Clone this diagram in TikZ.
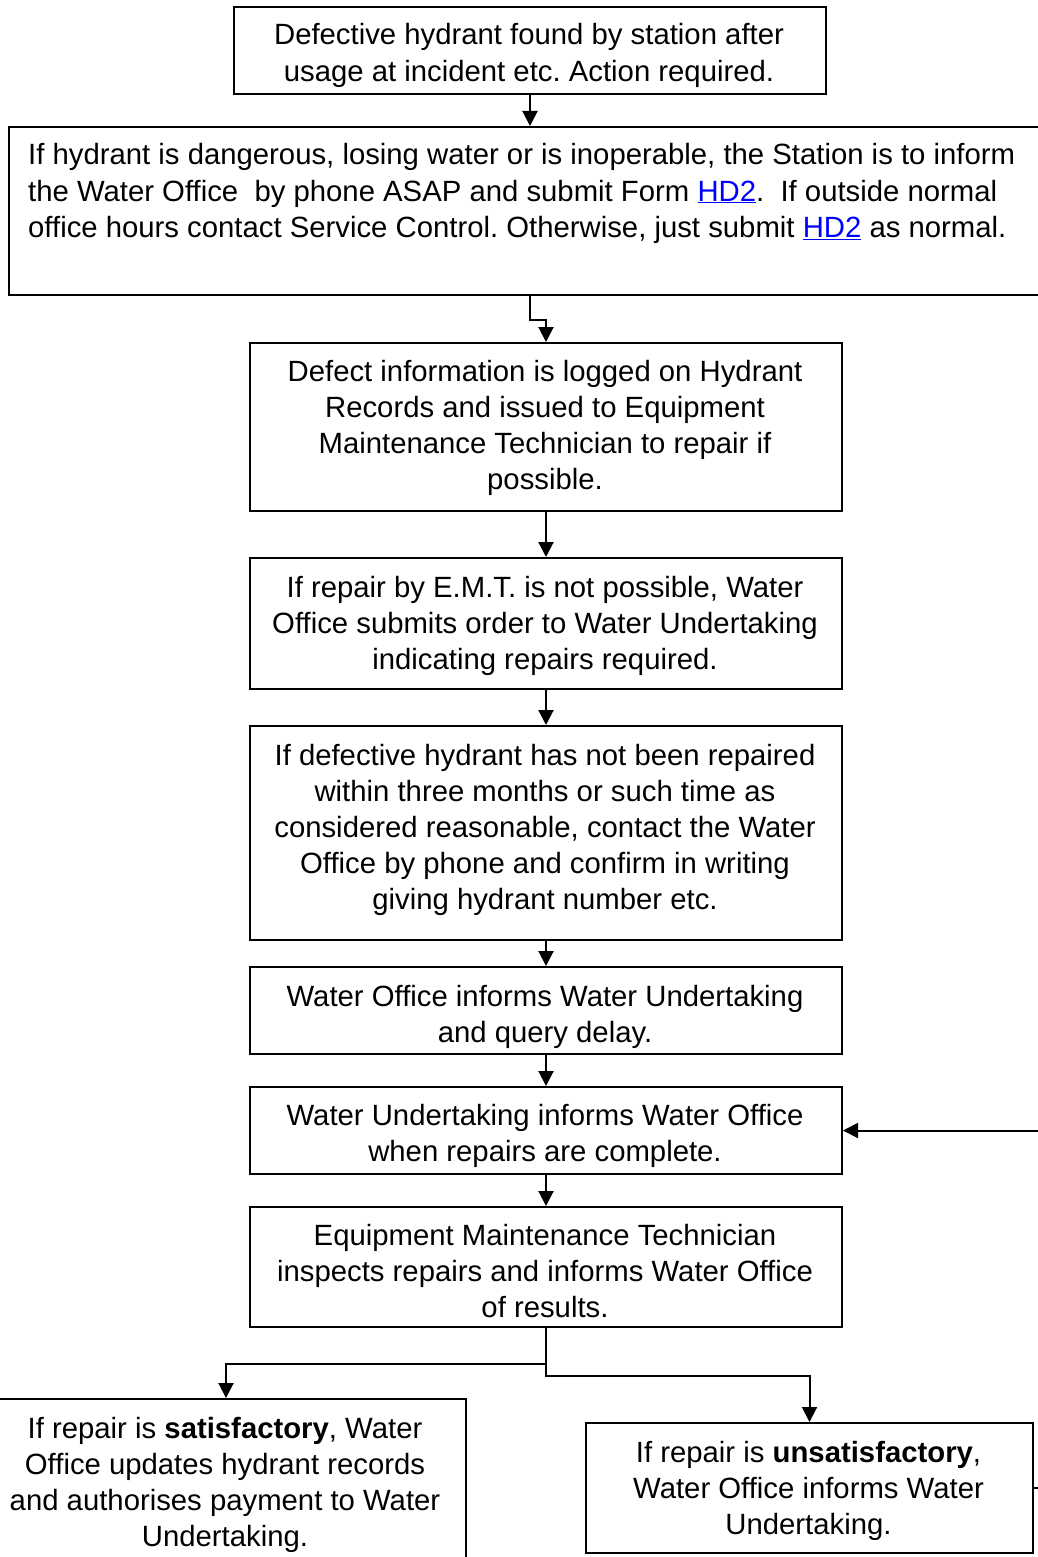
\documentclass[tikz,border=0pt]{standalone}
\usepackage{fontspec}
\setmainfont{Liberation Sans}
\usetikzlibrary{arrows.meta,calc}
\definecolor{linkblue}{RGB}{0,0,255}
\frenchspacing
\newcommand{\hdlink}{\textcolor{linkblue}{\underline{HD2}}}
\newcommand{\ctext}[1]{\parbox[t]{760pt}{\centering\fontsize{29.3}{36.2}\selectfont #1}}
\newcommand{\ltext}[1]{\parbox[t]{1100pt}{\raggedright\fontsize{29.3}{36.2}\selectfont #1}}
\begin{document}
\begin{tikzpicture}[x=1pt,y=-1pt,
  box/.style={draw, line width=2pt, rectangle, inner sep=0pt, anchor=north west},
  txt/.style={inner sep=0pt, anchor=base},
  arr/.style={line width=2pt, -{Triangle[length=15pt,width=15pt]}},
  ln/.style={line width=2pt}]
\clip (0,0) rectangle (1038,1557);
\fill[white] (0,0) rectangle (1038,1557);
% boxes
\node[box, minimum width=592pt, minimum height=87pt] (b1) at (233,6) {};
\node[box, minimum width=1060pt, minimum height=168pt] (b2) at (8,126) {};
\node[box, minimum width=592pt, minimum height=168pt] (b3) at (249,342) {};
\node[box, minimum width=592pt, minimum height=131pt] (b4) at (249,557) {};
\node[box, minimum width=592pt, minimum height=214pt] (b5) at (249,725) {};
\node[box, minimum width=592pt, minimum height=87pt] (b6) at (249,966) {};
\node[box, minimum width=592pt, minimum height=87pt] (b7) at (249,1086) {};
\node[box, minimum width=592pt, minimum height=120pt] (b8) at (249,1206) {};
\node[box, minimum width=480pt, minimum height=200pt] (bs) at (-15,1398) {};
\node[box, minimum width=447pt, minimum height=130pt] (bu) at (585,1422) {};
% texts
\node[txt] (t1) at (529,45) {\ctext{Defective hydrant found by station after\\usage at incident etc. Action required.}};
\node[txt, anchor=base west] (t2) at (28,165) {\ltext{If hydrant is dangerous, losing water or is inoperable, the Station is to inform\\the Water Office\ \ by phone ASAP and submit Form \hdlink.\ \ If outside normal\\office hours contact Service Control. Otherwise, just submit \hdlink{} as normal.}};
\node[txt] (t3) at (545,381) {\ctext{Defect information is logged on Hydrant\\Records and issued to Equipment\\Maintenance Technician to repair if\\possible.}};
\node[txt] (t4) at (545,597) {\ctext{If repair by E.M.T. is not possible, Water\\Office submits order to Water Undertaking\\indicating repairs required.}};
\node[txt] (t5) at (545,765) {\ctext{If defective hydrant has not been repaired\\within three months or such time as\\considered reasonable, contact the Water\\Office by phone and confirm in writing\\giving hydrant number etc.}};
\node[txt] (t6) at (545,1006) {\ctext{Water Office informs Water Undertaking\\and query delay.}};
\node[txt] (t7) at (545,1125) {\ctext{Water Undertaking informs Water Office\\when repairs are complete.}};
\node[txt] (t8) at (545,1245) {\ctext{Equipment Maintenance Technician\\inspects repairs and informs Water Office\\of results.}};
\node[txt] (ts) at (225,1438) {\ctext{If repair is \textbf{satisfactory}, Water\\Office updates hydrant records\\and authorises payment to Water\\Undertaking.}};
\node[txt] (tu) at (808.5,1462) {\ctext{If repair is \textbf{unsatisfactory},\\Water Office informs Water\\Undertaking.}};
% connectors
\draw[arr] (b1.south) -- (b1.south |- b2.north);
\draw[arr] (b2.south -| b1.south) -- ++(0,24) -| (b3.north);
\draw[arr] (b3.south) -- (b4.north);
\draw[arr] (b4.south) -- (b5.north);
\draw[arr] (b5.south) -- (b6.north);
\draw[arr] (b6.south) -- (b7.north);
\draw[arr] (b7.south) -- (b8.north);
\draw[arr] (b8.south) -- ($(b8.south)+(0,36)$) -| (bs.north);
\draw[arr] (b8.south) -- ($(b8.south)+(0,48)$) -| (bu.north);
\draw[arr] (bu.east) -- ++(40,0) |- (b7.east);
\end{tikzpicture}
\end{document}
